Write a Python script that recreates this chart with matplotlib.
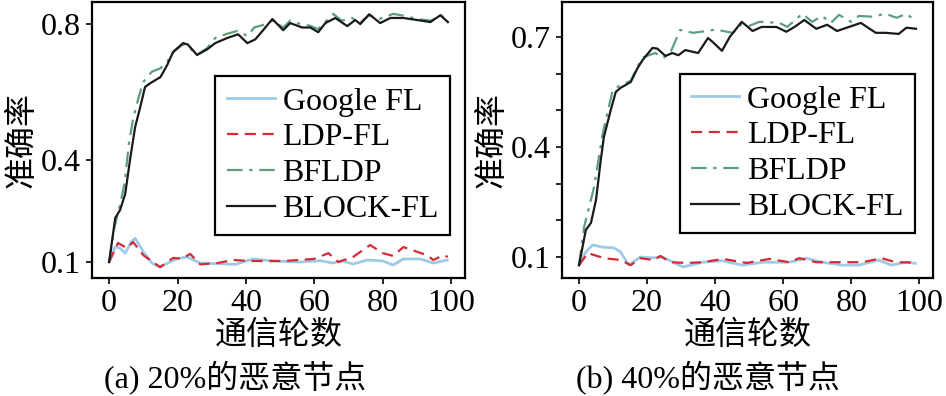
import matplotlib
matplotlib.use("Agg")
import matplotlib.pyplot as plt

plt.rcParams['font.family'] = ['Liberation Serif', 'Noto Sans CJK SC']

# ---- data, panel (a): 20% malicious nodes ----
a_google_x = [0, 1.8, 3, 4.7, 6.5, 7.6, 10, 12.5, 14.9, 17.8, 20, 22.8, 26.6, 32.5, 37, 42, 48,
              55.8, 61.7, 65.5, 68, 71.3, 75.4, 80, 83, 86, 91, 94.7, 98.8]
a_google_y = [0.10, 0.144, 0.142, 0.126, 0.16, 0.17, 0.13, 0.097, 0.085, 0.10, 0.11, 0.115, 0.097,
              0.095, 0.093, 0.109, 0.103, 0.10, 0.104, 0.097, 0.104, 0.094, 0.106, 0.103, 0.091,
              0.109, 0.109, 0.097, 0.106]
a_ldp_x = [0, 2.6, 5.2, 7, 10, 14.9, 18.7, 21.3, 23.7, 26.6, 31.6, 36.3, 41.2, 51, 59.8, 64.1, 67,
           71.3, 76.3, 80, 83, 86, 90, 93, 94.7, 97.7, 99]
a_ldp_y = [0.10, 0.156, 0.141, 0.159, 0.12, 0.085, 0.112, 0.11, 0.124, 0.093, 0.097, 0.106, 0.103,
           0.103, 0.109, 0.126, 0.10, 0.115, 0.15, 0.126, 0.118, 0.144, 0.13, 0.12, 0.106, 0.12, 0.115]
a_bfldp_x = [0, 1.5, 3, 4.5, 5.8, 7, 8.5, 10, 12.5, 15, 17, 19, 21.5, 23, 25.7, 28.7, 31, 34, 37.5,
             40.4, 42.4, 45.9, 47.7, 50.9, 52.9, 56, 58.8, 61.1, 63.5, 65.5, 68, 71, 73.4, 76, 79,
             83, 86, 90, 94, 97, 99]
a_bfldp_y = [0.10, 0.20, 0.26, 0.33, 0.45, 0.52, 0.58, 0.63, 0.66, 0.67, 0.69, 0.72, 0.74, 0.735,
             0.71, 0.73, 0.759, 0.77, 0.78, 0.765, 0.79, 0.80, 0.81, 0.79, 0.81, 0.80, 0.795, 0.785,
             0.81, 0.83, 0.81, 0.818, 0.805, 0.826, 0.815, 0.83, 0.825, 0.815, 0.81, 0.826, 0.81]
a_block_x = [0, 1.8, 3.2, 4.7, 6.1, 7.6, 9.1, 10.5, 12, 15, 17, 18.7, 21.6, 23, 25.7, 28.7, 31, 34.5,
             37.7, 40.4, 42.7, 45, 47.7, 50.9, 52.9, 56.4, 58.8, 61.1, 63.2, 66.1, 69.6, 71.9, 73.4,
             76, 79.2, 82.2, 86, 90, 93.9, 96.8, 99]
a_block_y = [0.10, 0.23, 0.253, 0.30, 0.40, 0.497, 0.556, 0.615, 0.626, 0.644, 0.68, 0.718, 0.744,
             0.74, 0.709, 0.726, 0.744, 0.759, 0.77, 0.744, 0.755, 0.782, 0.815, 0.782, 0.803, 0.79,
             0.79, 0.776, 0.803, 0.818, 0.794, 0.812, 0.80, 0.829, 0.803, 0.818, 0.818, 0.812, 0.806,
             0.826, 0.806]

# ---- data, panel (b): 40% malicious nodes ----
b_google_x = [0, 2, 4, 7, 10.2, 12.2, 14.6, 18, 21.6, 24.5, 30.6, 36.4, 42, 48, 54, 61.8, 66.8,
              71.4, 77.3, 82.2, 88, 91.8, 95.9, 98.8]
b_google_y = [0.078, 0.114, 0.133, 0.127, 0.125, 0.114, 0.078, 0.10, 0.098, 0.10, 0.073, 0.086,
              0.09, 0.078, 0.086, 0.086, 0.097, 0.086, 0.078, 0.078, 0.092, 0.078, 0.086, 0.083]
b_ldp_x = [0, 2.6, 7.3, 12.2, 15.2, 18, 21.9, 23.9, 26.8, 31.8, 36.4, 42.3, 49.3, 56, 61.8, 64.7,
           69.7, 75.5, 83.3, 88.9, 93, 98.8]
b_ldp_y = [0.078, 0.111, 0.097, 0.092, 0.078, 0.097, 0.092, 0.103, 0.086, 0.084, 0.086, 0.095,
           0.084, 0.095, 0.086, 0.097, 0.086, 0.086, 0.086, 0.097, 0.086, 0.085]
b_bfldp_x = [0, 1.5, 4.4, 7, 9.9, 12.2, 15.2, 17.2, 19, 22.4, 24.8, 26.8, 29.7, 33.5, 37.6, 40,
             42.3, 45.2, 47.8, 50, 53, 58.9, 61.2, 65.6, 68.5, 71.4, 74, 76.4, 79.9, 82.2, 86,
             90.1, 93.3, 96.2, 98.8]
b_bfldp_y = [0.078, 0.182, 0.29, 0.438, 0.555, 0.569, 0.58, 0.62, 0.645, 0.656, 0.643, 0.656,
             0.719, 0.711, 0.716, 0.72, 0.716, 0.711, 0.735, 0.73, 0.741, 0.738, 0.727, 0.763,
             0.741, 0.757, 0.738, 0.76, 0.741, 0.757, 0.755, 0.763, 0.752, 0.763, 0.744]
b_block_x = [0, 2, 3.5, 5, 6.4, 7.3, 9.3, 10.8, 12.2, 15.2, 17.2, 18.7, 21.6, 23, 25.4, 27.4, 29.2,
             31.2, 35, 37.9, 39.4, 42, 44.3, 47.8, 51, 53.6, 58, 60.9, 63.3, 66.2, 69.7, 72.9,
             75.8, 79.3, 82.8, 87.2, 90.1, 93.9, 96.2, 99]
b_block_y = [0.078, 0.174, 0.193, 0.256, 0.365, 0.427, 0.50, 0.55, 0.561, 0.577, 0.615, 0.637,
             0.67, 0.668, 0.648, 0.656, 0.65, 0.664, 0.656, 0.697, 0.685, 0.662, 0.70, 0.741,
             0.716, 0.727, 0.727, 0.714, 0.727, 0.746, 0.722, 0.733, 0.716, 0.727, 0.738, 0.711,
             0.711, 0.708, 0.725, 0.722]

labels = ['Google FL', 'LDP-FL', 'BFLDP', 'BLOCK-FL']
a_yticks = [0.1, 0.4, 0.8]
b_yticks = [0.1, 0.2, 0.3, 0.4, 0.5, 0.6, 0.7]
b_ylabels = ['0.1', '', '', '0.4', '', '', '0.7']
xticks = [0, 20, 40, 60, 80, 100]

colors = ['#9ecae8', '#d42a35', '#5d9e7e', '#1a1a1a']
styles = ['-', (0, (5, 3)), (0, (7, 3, 1.5, 3)), '-']
widths = [2.0, 1.6, 1.6, 1.6]

fig = plt.figure(figsize=(9.46, 3.96), dpi=100)
ax_a = fig.add_axes([92 / 946, 1 - 278 / 396, 373 / 946, 276 / 396])
ax_b = fig.add_axes([562 / 946, 1 - 278 / 396, 371 / 946, 276 / 396])

panels = [
    (ax_a, [(a_google_x, a_google_y), (a_ldp_x, a_ldp_y), (a_bfldp_x, a_bfldp_y), (a_block_x, a_block_y)],
     (0.053, 0.865), a_yticks, ['0.1', '0.4', '0.8'], (0.96, 0.156), '(a) 20%的恶意节点', 235),
    (ax_b, [(b_google_x, b_google_y), (b_ldp_x, b_ldp_y), (b_bfldp_x, b_bfldp_y), (b_block_x, b_block_y)],
     (0.043, 0.795), b_yticks, b_ylabels, (0.951, 0.163), '(b) 40%的恶意节点', 708),
]

for ax, series, ylim, yt, ytl, anchor, caption, cx in panels:
    for (x, y), lab, c, ls, lw in zip(series, labels, colors, styles, widths):
        ax.plot(x, y, color=c, linestyle=ls, linewidth=lw, label=lab)
    ax.set_xlim(-5, 104)
    ax.set_ylim(*ylim)
    ax.set_xticks(xticks)
    ax.set_yticks(yt)
    ax.set_yticklabels(ytl)
    ax.tick_params(direction='out', length=4, width=1.2, labelsize=23, pad=4)
    for sp in ax.spines.values():
        sp.set_linewidth(1.6)
    ax.set_ylabel('准确率', fontsize=23, family=['Noto Sans CJK SC'], va='center', ha='center')
    ax.yaxis.set_label_coords(-0.19, 0.5)
    ax.set_xlabel('通信轮数', fontsize=23, family=['Noto Sans CJK SC'], va='center')
    ax.xaxis.set_label_coords(0.5, -0.205)
    leg = ax.legend(loc='lower right', bbox_to_anchor=anchor, borderaxespad=0, fontsize=23,
                    fancybox=False, framealpha=1, edgecolor='black', handlelength=1.5,
                    labelspacing=0.2, borderpad=0.35, handletextpad=0.25)
    leg.get_frame().set_linewidth(1.6)
    fig.text(cx / 946, 1 - 378 / 396, caption, ha='center', va='center', fontsize=23)

fig.savefig('out.png', dpi=100)
